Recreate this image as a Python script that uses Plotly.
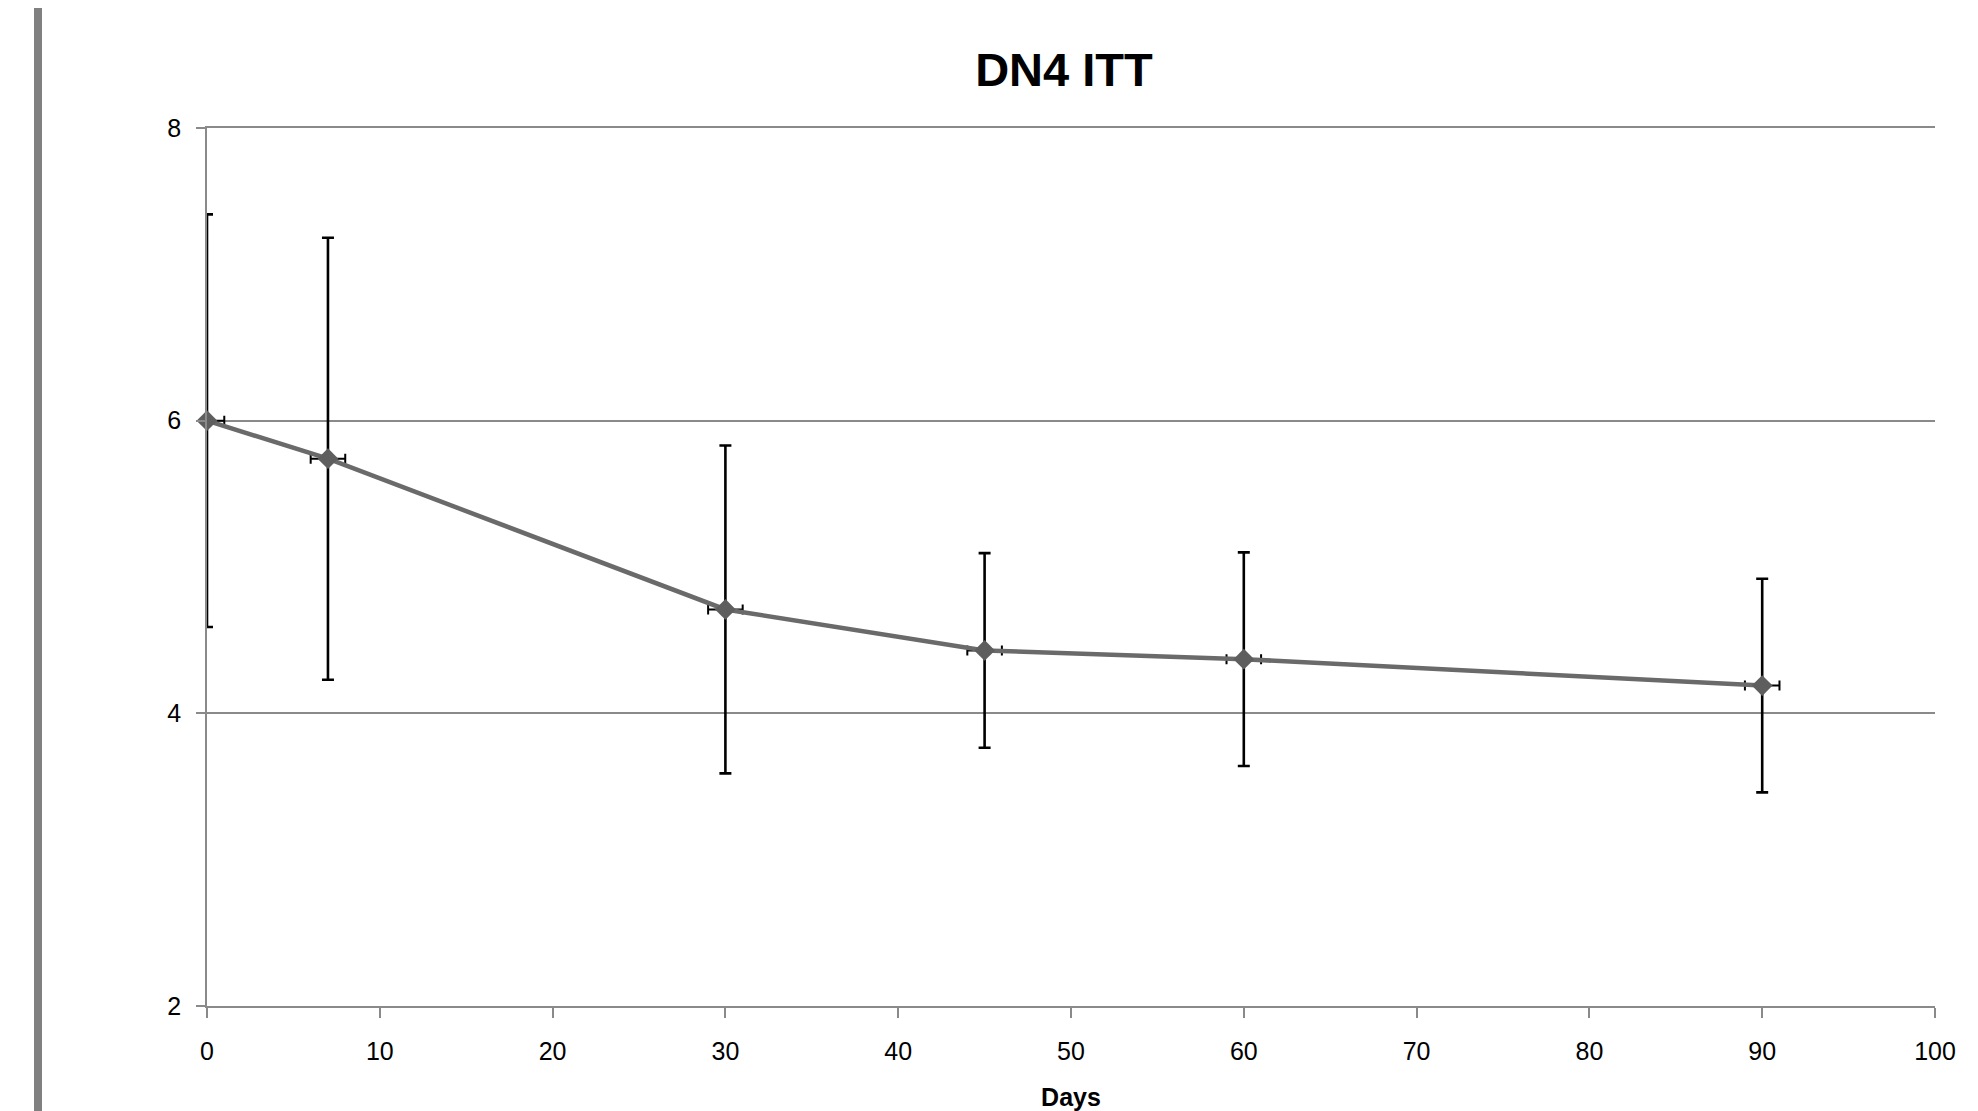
import plotly.graph_objects as go

# Data
days = [0, 7, 30, 45, 60, 90]
dn4_mean = [6.00, 5.74, 4.71, 4.43, 4.37, 4.19]
dn4_err = [1.41, 1.51, 1.12, 0.665, 0.73, 0.73]
days_err = [1, 1, 1, 1, 1, 1]
x_ticks = [0, 10, 20, 30, 40, 50, 60, 70, 80, 90, 100]
y_ticks = [2, 4, 6, 8]

FONT = "Liberation Sans, Arial"

fig = go.Figure()
fig.add_trace(go.Scatter(
    x=days, y=dn4_mean,
    mode="lines+markers",
    line=dict(color="#6a6a6a", width=4.5),
    marker=dict(symbol="diamond", size=16, color="#5e5e5e"),
    error_y=dict(type="data", array=dn4_err, visible=True,
                 color="#000000", thickness=2.6, width=6),
    error_x=dict(type="data", array=days_err, visible=True,
                 color="#000000", thickness=2, width=5),
    showlegend=False,
    cliponaxis=False,
))

fig.update_layout(
    width=1970, height=1103,
    margin=dict(l=199, r=43, t=120, b=105, autoexpand=False),
    paper_bgcolor="white", plot_bgcolor="white",
    title=dict(text="<b>DN4 ITT</b>", x=0.536, xanchor="center",
               y=1 - 62 / 1103, yanchor="middle",
               font=dict(family=FONT, size=47, color="#000000")),
    font=dict(family=FONT, color="#000000"),
    shapes=[dict(type="line", xref="paper", yref="paper",
                 x0=-0.0978, x1=-0.0978, y0=-0.2, y1=1.2,
                 line=dict(color="#808080", width=8))],
)

fig.update_xaxes(
    range=[0, 100], tickvals=x_ticks, ticks="outside", ticklen=10,
    tickcolor="#8a8a8a", tickwidth=1.5, ticklabelstandoff=12,
    showline=True, mirror=True, linecolor="#8a8a8a", linewidth=1.5,
    showgrid=False, zeroline=False,
    tickfont=dict(size=25, family=FONT),
    title=dict(text="<b>Days</b>", standoff=26,
               font=dict(size=25, family=FONT)),
    automargin=False,
)
fig.update_yaxes(
    range=[2, 8], tickvals=y_ticks, ticks="outside", ticklen=9,
    tickcolor="#8a8a8a", tickwidth=1.5, ticklabelstandoff=10,
    showline=True, linecolor="#8a8a8a", linewidth=1.5,
    showgrid=True, gridcolor="#8a8a8a", gridwidth=1.5,
    zeroline=False,
    tickfont=dict(size=25, family=FONT),
    automargin=False,
)

fig.write_html("out.html")
